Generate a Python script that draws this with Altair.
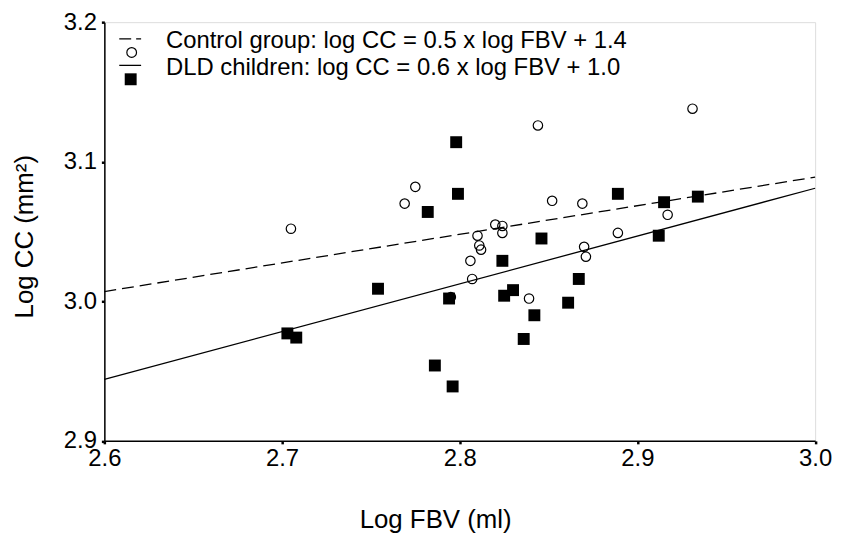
import altair as alt
import pandas as pd

# ---- data ----
control_x = [2.705, 2.775, 2.769, 2.820, 2.824, 2.824, 2.810, 2.811, 2.812, 2.806, 2.807,
             2.844, 2.931, 2.852, 2.869, 2.917, 2.889, 2.870, 2.871, 2.839, 2.795]
control_y = [3.052, 3.082, 3.070, 3.055, 3.054, 3.049, 3.047, 3.040, 3.037, 3.029, 3.016,
             3.126, 3.138, 3.072, 3.070, 3.062, 3.049, 3.039, 3.032, 3.002, 3.003]

dld_x = [2.798, 2.799, 2.782, 2.824, 2.846, 2.889, 2.915, 2.934, 2.912, 2.867, 2.754,
         2.703, 2.708, 2.794, 2.786, 2.796, 2.825, 2.830, 2.861, 2.842, 2.836]
dld_y = [3.114, 3.077, 3.064, 3.029, 3.045, 3.077, 3.071, 3.075, 3.047, 3.016, 3.009,
         2.977, 2.974, 3.002, 2.954, 2.939, 3.004, 3.008, 2.999, 2.990, 2.973]

control_fit_x = [2.6, 3.0]
control_fit_y = [3.007, 3.089]
dld_fit_x = [2.6, 3.0]
dld_fit_y = [2.944, 3.081]

x_ticks = [2.6, 2.7, 2.8, 2.9, 3.0]
y_ticks = [2.9, 3.0, 3.1, 3.2]

legend_labels = ["Control group: log CC = 0.5 x log FBV + 1.4",
                 "DLD children: log CC = 0.6 x log FBV + 1.0"]

FONT = "Liberation Sans"

ctrl = pd.DataFrame({"x": control_x, "y": control_y})
dld = pd.DataFrame({"x": dld_x, "y": dld_y})
cfit = pd.DataFrame({"x": control_fit_x, "y": control_fit_y})
dfit = pd.DataFrame({"x": dld_fit_x, "y": dld_fit_y})

xscale = alt.Scale(domain=[2.6, 3.0], nice=False, zero=False)
yscale = alt.Scale(domain=[2.9, 3.2], nice=False, zero=False)

xaxis = alt.Axis(values=x_ticks, format=".1f", grid=False, labelFlush=False,
                 labelOverlap=False, domainColor="black", domainWidth=1.5,
                 tickColor="black", tickSize=3, tickWidth=2.5,
                 labelFont=FONT, labelFontSize=24, labelColor="black", labelPadding=3,
                 title="Log FBV (ml)", titleFont=FONT, titleFontSize=26,
                 titleFontWeight="normal", titleColor="black",
                 titleX=333, titleY=87, titleBaseline="alphabetic", titleAlign="center")
yaxis = alt.Axis(values=y_ticks, format=".1f", grid=False, labelFlush=False,
                 labelOverlap=False, domainColor="black", domainWidth=1.5,
                 tickColor="black", tickSize=3, tickWidth=2.5,
                 labelFont=FONT, labelFontSize=24, labelColor="black", labelPadding=5,
                 title="Log CC (mm²)", titleFont=FONT, titleFontSize=26,
                 titleFontWeight="normal", titleColor="black", titleAngle=270,
                 titleX=-72, titleY=215.5, titleBaseline="alphabetic", titleAlign="center")

ctrl_line = alt.Chart(cfit).mark_line(color="black", strokeWidth=1.3, strokeDash=[12, 6]).encode(
    x=alt.X("x:Q", scale=xscale, axis=xaxis),
    y=alt.Y("y:Q", scale=yscale, axis=yaxis),
)
dld_line = alt.Chart(dfit).mark_line(color="black", strokeWidth=1.3).encode(
    x=alt.X("x:Q", scale=xscale), y=alt.Y("y:Q", scale=yscale))

ctrl_pts = alt.Chart(ctrl).mark_point(shape="circle", filled=False, color="black",
                                      strokeWidth=1.2, size=90, opacity=1).encode(
    x=alt.X("x:Q", scale=xscale), y=alt.Y("y:Q", scale=yscale))
dld_pts = alt.Chart(dld).mark_square(color="black", size=144, opacity=1).encode(
    x=alt.X("x:Q", scale=xscale), y=alt.Y("y:Q", scale=yscale))

# ---- manual legend (inside the plot, top-left) ----
one = pd.DataFrame({"a": [0]})
leg_dash = alt.Chart(one).mark_rule(color="black", strokeWidth=1.3, strokeDash=[12, 5]).encode(
    x=alt.value(15), x2=alt.value(37), y=alt.value(16.8))
leg_circle = alt.Chart(one).mark_point(shape="circle", filled=False, color="black",
                                       strokeWidth=1.2, size=95, opacity=1).encode(
    x=alt.value(27.5), y=alt.value(30.5))
leg_solid = alt.Chart(one).mark_rule(color="black", strokeWidth=1.3).encode(
    x=alt.value(15), x2=alt.value(37), y=alt.value(43.5))
leg_square = alt.Chart(one).mark_square(color="black", size=144, opacity=1).encode(
    x=alt.value(26.5), y=alt.value(57.5))
leg_t1 = alt.Chart(pd.DataFrame({"t": [legend_labels[0]]})).mark_text(
    align="left", baseline="alphabetic", font=FONT, fontSize=24, color="black").encode(
    text="t:N", x=alt.value(62), y=alt.value(26.2))
leg_t2 = alt.Chart(pd.DataFrame({"t": [legend_labels[1]]})).mark_text(
    align="left", baseline="alphabetic", font=FONT, fontSize=24, color="black").encode(
    text="t:N", x=alt.value(62), y=alt.value(53.5))

chart = alt.layer(
    ctrl_line, dld_line, ctrl_pts, dld_pts,
    leg_dash, leg_circle, leg_solid, leg_square, leg_t1, leg_t2,
).properties(
    width=715.5, height=421.5,
    autosize=alt.AutoSizeParams(type="none"),
    padding={"left": 97, "top": 12.5, "right": 18, "bottom": 93},
).configure_view(
    stroke="black", strokeWidth=1.3
).configure(background="white")

chart.save("out.html", embed_options={"renderer": "svg", "actions": False})
